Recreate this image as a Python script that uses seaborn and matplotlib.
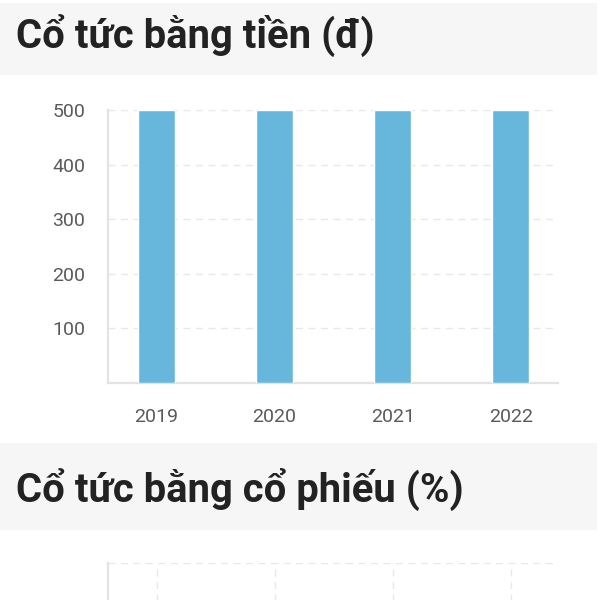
import matplotlib
matplotlib.use('Agg')

import seaborn as sns
import pandas as pd
import matplotlib.pyplot as plt
from matplotlib.patches import Rectangle

years = ['2019', '2020', '2021', '2022']
cash_dividend = [500, 500, 500, 500]
stock_dividend = [0, 0, 0, 0]
cash_yticks = [100, 200, 300, 400, 500]

title_cash = 'Cổ tức bằng tiền (đ)'
title_stock = 'Cổ tức bằng cổ phiếu (%)'

BAR_COLOR = '#67b7dc'
SPINE_COLOR = '#e3e3e3'
GRID_COLOR = '#e8e8e8'
TICK_COLOR = '#5a5a5a'
BAND_COLOR = '#f6f6f6'

sns.set_style('white')
plt.rcParams['font.family'] = ['Roboto', 'DejaVu Sans']

W, H = 600, 600
fig = plt.figure(figsize=(6, 6), dpi=100)
fig.patch.set_facecolor('white')


def px_rect(x0, y_top, x1, y_bot):
    # pixel box (from top-left) -> figure fraction [left, bottom, width, height]
    return [x0 / W, (H - y_bot) / H, (x1 - x0) / W, (y_bot - y_top) / H]


def band(y_top, y_bot, text, baseline):
    fig.patches.append(Rectangle((0, (H - y_bot) / H), 597 / W, (y_bot - y_top) / H,
                                 transform=fig.transFigure, facecolor=BAND_COLOR,
                                 edgecolor='none', zorder=0))
    fig.text(16 / W, (H - baseline) / H, text, fontsize=28.8, fontweight='bold',
             color='#222222', va='baseline', ha='left')


def style_axes(ax):
    for side in ['top', 'right']:
        ax.spines[side].set_visible(False)
    for side in ['left', 'bottom']:
        ax.spines[side].set_color(SPINE_COLOR)
        ax.spines[side].set_linewidth(1.6)
    ax.tick_params(axis='both', colors='#999999', labelcolor=TICK_COLOR, labelsize=14,
                   length=7, width=1, direction='out')
    ax.tick_params(axis='y', pad=9)
    ax.tick_params(axis='x', pad=11)
    ax.set_xlabel('')
    ax.set_ylabel('')
    ax.set_xlim(-0.415, 3.40)


band(3, 75, title_cash, 48)
band(443, 530, title_stock, 502)

# chart 1: cash dividend
ax1 = fig.add_axes(px_rect(107.5, 110, 558, 383))
df1 = pd.DataFrame({'Năm': years, 'Cổ tức': cash_dividend})
sns.barplot(data=df1, x='Năm', y='Cổ tức', color=BAR_COLOR, width=0.314,
            saturation=1, ax=ax1, zorder=3)
ax1.set_ylim(0, 500)
ax1.set_yticks(cash_yticks)
ax1.yaxis.grid(True, color=GRID_COLOR, linestyle=(0, (5, 4)), linewidth=1)
ax1.set_axisbelow(True)
style_axes(ax1)

# chart 2: stock dividend (cut off at bottom of the picture)
ax2 = fig.add_axes(px_rect(107.5, 563, 558, 836))
df2 = pd.DataFrame({'Năm': years, 'Cổ tức': stock_dividend})
sns.barplot(data=df2, x='Năm', y='Cổ tức', color=BAR_COLOR, width=0.314,
            saturation=1, ax=ax2, zorder=3)
ax2.set_ylim(0, 1)
ax2.set_yticks([1])
ax2.set_yticklabels([''])
ax2.set_xticks(range(len(years)))
ax2.set_xticklabels([''] * len(years))
ax2.grid(True, color=GRID_COLOR, linestyle=(0, (5, 4)), linewidth=1)
ax2.set_axisbelow(True)
style_axes(ax2)

fig.savefig('out.png', dpi=100, facecolor='white')
